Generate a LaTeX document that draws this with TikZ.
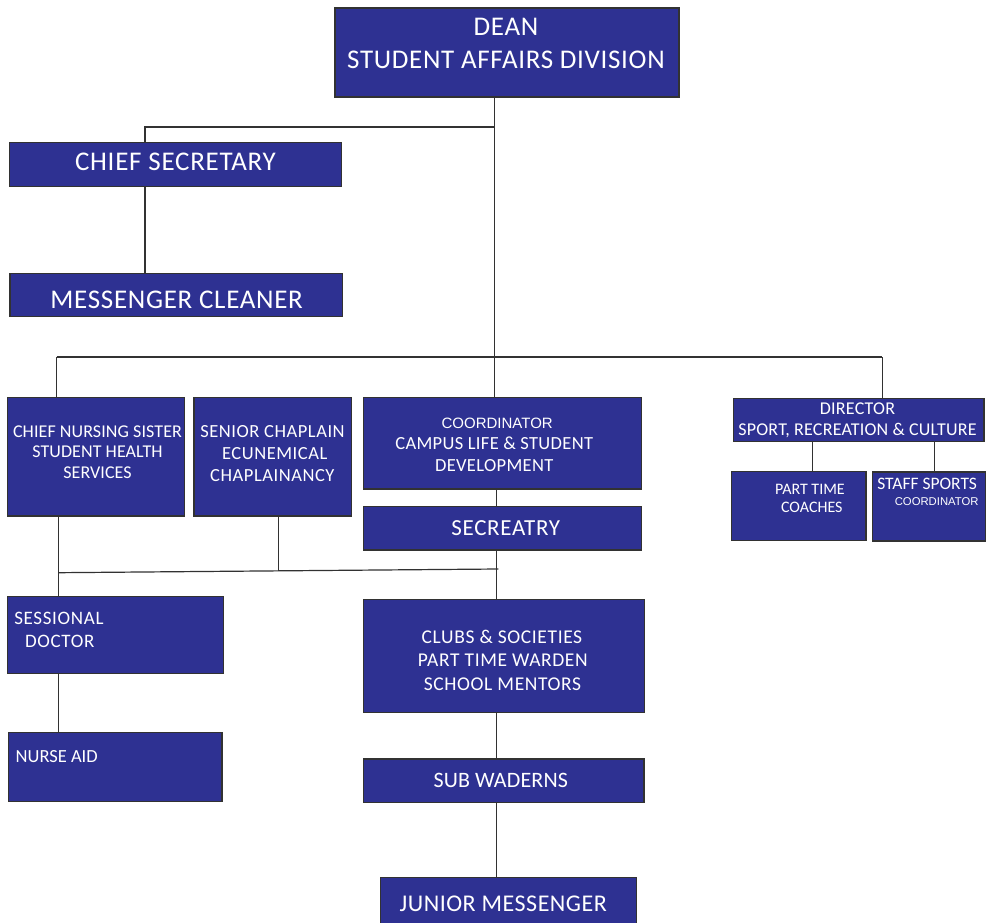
\documentclass[tikz,border=0pt]{standalone}
\usepackage{fontspec}
\setmainfont{Carlito}
\newfontfamily\arialf{Liberation Sans}
\definecolor{boxblue}{RGB}{46,49,146}
\definecolor{edgegray}{RGB}{50,50,50}
\begin{document}
\begin{tikzpicture}[x=1pt,y=-1pt,
  box/.style={draw=edgegray,fill=boxblue,line width=1.3pt,inner sep=0pt,outer sep=0pt,rectangle},
  txt/.style={text=white,inner sep=0pt,outer sep=0pt,anchor=base},
  conn/.style={draw=edgegray,line width=1.2pt},
  fs/.style n args={2}{font=\fontsize{#1}{#1}\selectfont\addfontfeature{LetterSpace=#2}}]
\clip (0,0) rectangle (990,923);
\fill[white] (0,0) rectangle (990,923);
% boxes
\node[box,minimum width=344pt,minimum height=89pt] (dean) at (507,52.5) {};
\node[box,minimum width=332.4pt,minimum height=43.6pt] (chiefsec) at (175.5,164.5) {};
\node[box,minimum width=332.3pt,minimum height=43.4pt] (messenger) at (176.2,295) {};
\node[box,minimum width=177pt,minimum height=118.7pt] (nursing) at (95.8,456.7) {};
\node[box,minimum width=157.7pt,minimum height=118.7pt] (chaplain) at (272.9,456.7) {};
\node[box,minimum width=278.4pt,minimum height=91.7pt] (coord) at (502.5,443.2) {};
\node[box,minimum width=278.4pt,minimum height=43.3pt] (secr) at (502.5,528.4) {};
\node[box,minimum width=281pt,minimum height=113.4pt] (clubs) at (503.8,656) {};
\node[box,minimum width=280.7pt,minimum height=43.3pt] (subw) at (503.7,780.7) {};
\node[box,minimum width=256pt,minimum height=62.7pt] (junior) at (508.7,908.7) {};
\node[box,minimum width=250.7pt,minimum height=43.4pt] (director) at (858.7,420) {};
\node[box,minimum width=134.3pt,minimum height=69pt] (coaches) at (798.9,506.2) {};
\node[box,minimum width=113.4pt,minimum height=69pt] (staff) at (929,506.5) {};
\node[box,minimum width=216pt,minimum height=76.6pt] (sessional) at (115.3,635) {};
\node[box,minimum width=213.7pt,minimum height=69pt] (nurseaid) at (115.2,767.2) {};
% junctions
\coordinate (j0) at (494.5,127);
\coordinate (j0l) at (145,127);
\coordinate (j1) at (494.5,357);
\coordinate (j1l) at (56.7,357);
\coordinate (j1r) at (882.3,357);
\coordinate (jc) at (496.5,357);
\coordinate (j2l) at (58.7,572.7);
\coordinate (j2r) at (498.3,569);
\coordinate (jch) at (278.3,570.5);
\coordinate (jd1) at (812.3,441);
\coordinate (jd2) at (934.3,441);
% connectors
\draw[conn] (dean.south -| j0) -- (j1);
\draw[conn] (j0) -- (j0l) -- (chiefsec.north -| j0l);
\draw[conn] (chiefsec.south -| j0l) -- (messenger.north -| j0l);
\draw[conn] (j1l) -- (j1r);
\draw[conn] (j1l) -- (nursing.north -| j1l);
\draw[conn] (j1r) -- (director.north -| j1r);
\draw[conn] (j1) -- (coord.north -| j1);
\draw[conn] (coord.south -| jc) -- (secr.north -| jc);
\draw[conn] (secr.south -| jc) -- (clubs.north -| jc);
\draw[conn] (j2l) -- (j2r);
\draw[conn] (chaplain.south -| jch) -- (jch);
\draw[conn] (nursing.south -| j2l) -- (sessional.north -| j2l);
\draw[conn] (sessional.south -| j2l) -- (nurseaid.north -| j2l);
\draw[conn] (clubs.south -| jc) -- (subw.north -| jc);
\draw[conn] (subw.south -| jc) -- (junior.north -| jc);
\draw[conn] (director.south -| jd1) -- (coaches.north -| jd1);
\draw[conn] (director.south -| jd2) -- (staff.north -| jd2);
% texts
\node[txt,fs={27}{2.5}] (tdean1) at (506,36) {DEAN};
\node[txt,fs={27}{2.5}] (tdean2) at (506,68.5) {STUDENT AFFAIRS DIVISION};
\node[txt,fs={27}{2.7}] (tcs) at (175.5,170) {CHIEF SECRETARY};
\node[txt,fs={27}{2.6}] (tmc) at (176.7,308) {MESSENGER CLEANER};
\node[txt,fs={18}{0.5}] (tn1) at (97.5,437) {CHIEF NURSING SISTER};
\node[txt,fs={18}{0.5}] (tn2) at (97.5,457.5) {STUDENT HEALTH};
\node[txt,fs={18}{0.5}] (tn3) at (97.5,478) {SERVICES};
\node[txt,fs={18.5}{2.9}] (tc1) at (272.5,437.3) {SENIOR CHAPLAIN};
\node[txt,fs={18.5}{2.9}] (tc2) at (274.7,459.3) {ECUNEMICAL};
\node[txt,fs={18.5}{2.9}] (tc3) at (272.3,481.7) {CHAPLAINANCY};
\node[txt,font=\arialf\fontsize{15}{15}\selectfont] (tco1) at (497.2,428.3) {COORDINATOR};
\node[txt,fs={18.5}{1.8}] (tco2) at (494.2,449) {CAMPUS LIFE \& STUDENT};
\node[txt,fs={18.5}{1.8}] (tco3) at (494.2,471) {DEVELOPMENT};
\node[txt,fs={23}{2.9}] (tsec) at (505.8,535.7) {SECREATRY};
\node[txt,fs={19.5}{3.2}] (tcl1) at (502,643.3) {CLUBS \& SOCIETIES};
\node[txt,fs={19.5}{3.2}] (tcl2) at (502.8,666.7) {PART TIME WARDEN};
\node[txt,fs={19.5}{3.2}] (tcl3) at (502.5,690) {SCHOOL MENTORS};
\node[txt,fs={22}{0.8}] (tsub) at (500.8,787.3) {SUB WADERNS};
\node[txt,fs={24}{2.1}] (tjun) at (503.3,911.7) {JUNIOR MESSENGER};
\node[txt,fs={18}{1.2}] (td1) at (857.5,414.3) {DIRECTOR};
\node[txt,fs={18}{1.2}] (td2) at (857.5,435) {SPORT, RECREATION \& CULTURE};
\node[txt,fs={16}{0}] (tpt1) at (810,494.3) {PART TIME};
\node[txt,fs={16}{0}] (tpt2) at (811.8,512.7) {COACHES};
\node[txt,fs={17.5}{0},anchor=base west] (tss1) at (877.3,489.3) {STAFF SPORTS};
\node[txt,font=\arialf\fontsize{11.3}{11.3}\selectfont,anchor=base east] (tss2) at (978.5,505) {COORDINATOR};
\node[txt,fs={19}{3.5},anchor=base west] (tse1) at (14.3,624.7) {SESSIONAL};
\node[txt,fs={19}{3.5},anchor=base west] (tse2) at (25,647.3) {DOCTOR};
\node[txt,fs={18.5}{0},anchor=base west] (tna) at (15.7,762.7) {NURSE AID};
\end{tikzpicture}
\end{document}
